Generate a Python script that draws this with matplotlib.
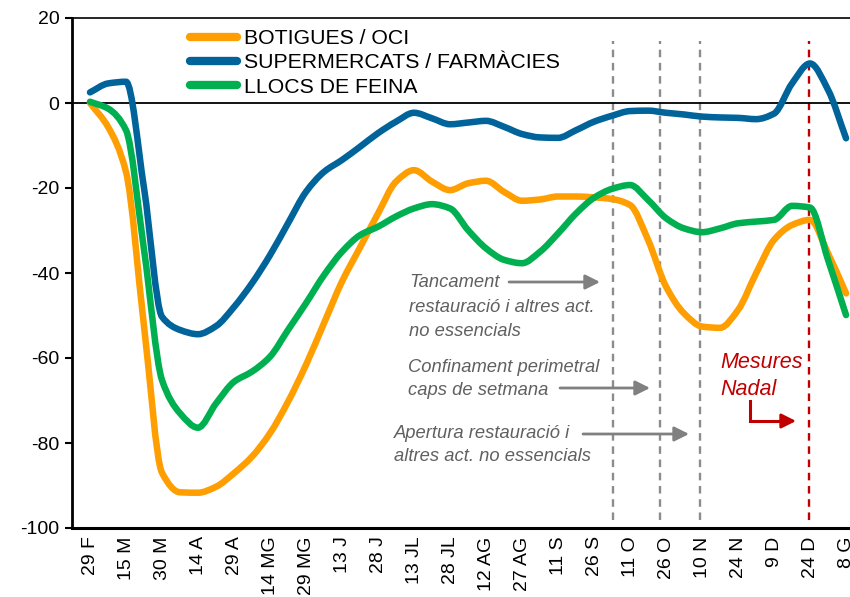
import matplotlib
matplotlib.use("Agg")
import matplotlib.pyplot as plt
from matplotlib.path import Path
from matplotlib.patches import PathPatch
from matplotlib.lines import Line2D
import numpy as np

plt.rcParams['font.family'] = ['Liberation Sans', 'DejaVu Sans']
plt.rcParams['axes.unicode_minus'] = False

# ---------------- data ----------------
tick_labels = ["29 F", "15 M", "30 M", "14 A", "29 A", "14 MG", "29 MG", "13 J",
               "28 J", "13 JL", "28 JL", "12 AG", "27 AG", "11 S", "26 S", "11 O",
               "26 O", "10 N", "24 N", "9 D", "24 D", "8 G"]

# positions in tick-label units (one step = 15 days), sampled every half step
x_pos = [i * 0.5 for i in range(43)]

botigues = [0.0, -5.6, -16.2, -52.5, -87.0, -91.6, -91.7, -90.3, -87.1, -83.2,
            -77.7, -70.3, -61.6, -51.8, -42.0, -34.0, -26.0, -18.5, -15.8, -18.5,
            -20.5, -18.9, -18.3, -20.9, -23.0, -22.7, -22.0, -22.0, -22.2, -22.6,
            -24.0, -32.2, -43.2, -49.5, -52.6, -52.9, -48.7, -40.1, -32.2, -28.7,
            -27.5, -35.4, -44.8]

supermercats = [2.5, 4.6, 5.0, -20.0, -50.3, -53.4, -54.4, -52.5, -48.0, -42.4,
                -35.8, -28.3, -20.9, -16.2, -13.4, -10.3, -7.1, -4.4, -2.3, -3.6,
                -5.0, -4.6, -4.2, -5.6, -7.3, -8.1, -8.2, -6.4, -4.4, -3.0,
                -1.9, -1.8, -2.3, -2.7, -3.2, -3.4, -3.5, -3.8, -2.5, 4.6,
                9.3, 3.1, -8.3]

llocs_feina = [0.3, -1.3, -6.4, -34.5, -65.2, -73.0, -76.4, -70.7, -65.6, -63.2,
               -59.7, -53.4, -47.1, -40.5, -35.0, -31.1, -29.1, -26.7, -24.8, -23.8,
               -24.8, -29.9, -34.2, -36.9, -37.7, -35.0, -30.7, -26.0, -22.3, -20.2,
               -19.3, -22.8, -27.1, -29.5, -30.4, -29.5, -28.3, -27.9, -27.5, -24.2,
               -24.6, -36.9, -49.9]

series_names = ["BOTIGUES / OCI", "SUPERMERCATS / FARMÀCIES", "LLOCS DE FEINA"]
series_colors = ["#FF9E00", "#00649A", "#00B050"]

event_x = [14.53, 15.83, 16.94]   # gray dashed markers
christmas_x = 19.97               # red dashed marker


def smooth_path(xs, ys):
    """Smoothed line drawn as cubic Bezier segments through the data points
    (monotone tangents, so the curve does not overshoot between points)."""
    x = np.asarray(xs, float)
    y = np.asarray(ys, float)
    n = len(x)
    h = np.diff(x)
    d = np.diff(y) / h
    m = np.zeros(n)
    m[0], m[-1] = d[0], d[-1]
    for i in range(1, n - 1):
        if d[i - 1] * d[i] <= 0:
            m[i] = 0.0
        else:
            w1 = 2 * h[i] + h[i - 1]
            w2 = h[i] + 2 * h[i - 1]
            m[i] = (w1 + w2) / (w1 / d[i - 1] + w2 / d[i])
    verts = [(x[0], y[0])]
    codes = [Path.MOVETO]
    for i in range(n - 1):
        verts += [(x[i] + h[i] / 3, y[i] + m[i] * h[i] / 3),
                  (x[i + 1] - h[i] / 3, y[i + 1] - m[i + 1] * h[i] / 3),
                  (x[i + 1], y[i + 1])]
        codes += [Path.CURVE4] * 3
    return Path(verts, codes)


# ---------------- figure ----------------
W, H = 850, 597
fig = plt.figure(figsize=(W / 100, H / 100), dpi=100)
ax = fig.add_axes([72 / W, 1 - 528 / H, (850 - 72) / W, (528 - 18) / H])

handles = []
for vals, name, col in zip([botigues, supermercats, llocs_feina], series_names, series_colors):
    patch = PathPatch(smooth_path(x_pos, vals), facecolor='none', edgecolor=col, lw=4.7,
                      capstyle='round', joinstyle='round', zorder=3, transform=ax.transData)
    ax.add_patch(patch)
    handles.append(Line2D([], [], color=col, lw=6, solid_capstyle='round', label=name))

ax.axhline(0, color='black', lw=1.3, zorder=2)

ax.vlines(event_x, -98, 14.5, colors='#8C8C8C', linestyles=(0, (3.2, 2.4)), lw=1.7, zorder=1)
ax.vlines([christmas_x], -98, 14.5, colors='#C00000', linestyles=(0, (3.2, 2.4)), lw=1.7, zorder=1)

ax.set_xlim(-0.5, 21.11)
ax.set_ylim(-100, 20)
ax.set_yticks(np.arange(-100, 21, 20))
ax.set_xticks(range(len(tick_labels)))
ax.set_xticklabels(tick_labels, rotation=90, fontsize=14)
ax.tick_params(axis='x', length=0, pad=6)
ax.tick_params(axis='y', labelsize=14, length=5, width=1.5, direction='out', pad=4)

ax.spines['right'].set_visible(False)
ax.spines['left'].set_linewidth(2)
ax.spines['bottom'].set_linewidth(2.2)
ax.spines['top'].set_linewidth(1.2)

# legend
leg = ax.legend(handles=handles, loc='upper left',
                bbox_to_anchor=((190 - 72) / (850 - 72), 1 - (29 - 18) / 510),
                frameon=False, fontsize=15.3, handlelength=2.2, handletextpad=0.35,
                labelspacing=0.25, borderaxespad=0, borderpad=0)

gray_txt = '#606060'
gray_arr = '#808080'
fs_ann = 13.2


def px_x(px):
    return (px - 90) / 36.0


def px_y(py):
    return (103 - py) / 4.25


ax.text(px_x(409), px_y(307), "Tancament\nrestauració i altres act.\nno essencials",
        ha='left', va='center', fontsize=fs_ann, style='italic', color=gray_txt, linespacing=1.58)
ax.annotate("", xy=(px_x(600), px_y(282)), xytext=(px_x(509), px_y(282)),
            arrowprops=dict(arrowstyle='-|>', color=gray_arr, lw=2, mutation_scale=22,
                            shrinkA=0, shrinkB=0))

ax.text(px_x(408), px_y(379), "Confinament perimetral\ncaps de setmana",
        ha='left', va='center', fontsize=fs_ann, style='italic', color=gray_txt, linespacing=1.46)
ax.annotate("", xy=(px_x(650), px_y(388)), xytext=(px_x(560), px_y(388)),
            arrowprops=dict(arrowstyle='-|>', color=gray_arr, lw=2, mutation_scale=22,
                            shrinkA=0, shrinkB=0))

ax.text(px_x(394), px_y(445), "Apertura restauració i\naltres act. no essencials",
        ha='left', va='center', fontsize=fs_ann, style='italic', color=gray_txt, linespacing=1.46)
ax.annotate("", xy=(px_x(689), px_y(434)), xytext=(px_x(583), px_y(434)),
            arrowprops=dict(arrowstyle='-|>', color=gray_arr, lw=2, mutation_scale=22,
                            shrinkA=0, shrinkB=0))

ax.text(px_x(720), px_y(376), "Mesures\nNadal", ha='left', va='center', fontsize=15.5,
        style='italic', color='#C00000', linespacing=1.36)
ax.plot([px_x(750), px_x(750), px_x(782)], [px_y(401), px_y(421), px_y(421)],
        color='#C00000', lw=2.2, solid_joinstyle='miter')
ax.annotate("", xy=(px_x(796), px_y(421)), xytext=(px_x(780), px_y(421)),
            arrowprops=dict(arrowstyle='-|>', color='#C00000', lw=2, mutation_scale=22,
                            shrinkA=0, shrinkB=0))

fig.savefig("out.png", dpi=100)
